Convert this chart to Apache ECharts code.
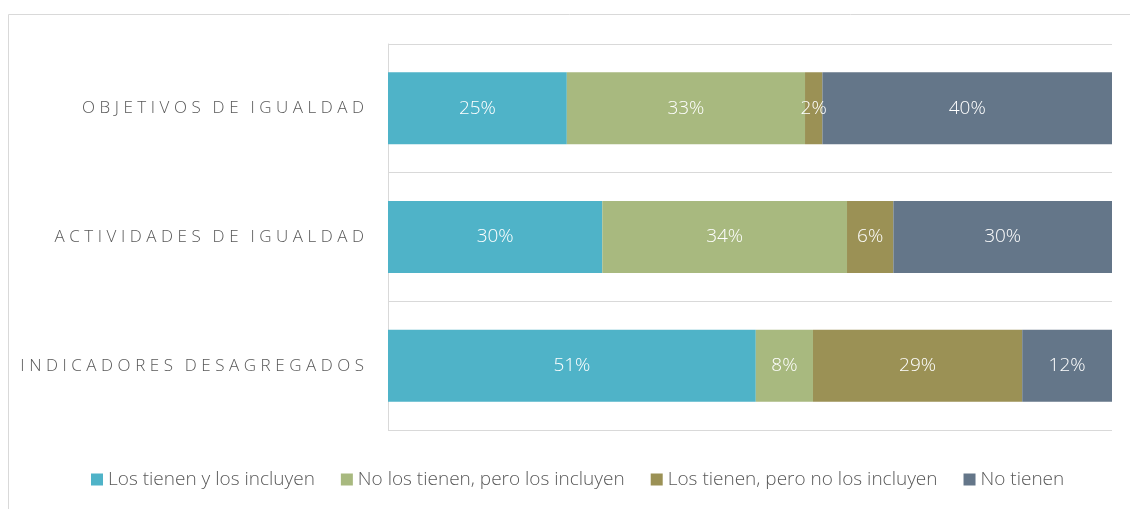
<!DOCTYPE html>
<html>
<head>
<meta charset="utf-8">
<script src="https://cdn.jsdelivr.net/npm/echarts@6/dist/echarts.min.js"></script>
<style>html,body{margin:0;padding:0;background:#fff}#c{width:1130px;height:509px}</style>
</head>
<body>
<div id="c"></div>
<script>
const categories = ['OBJETIVOS DE IGUALDAD', 'ACTIVIDADES DE IGUALDAD', 'INDICADORES DESAGREGADOS'];
const seriesNames = ['Los tienen y los incluyen', 'No los tienen, pero los incluyen', 'Los tienen, pero no los incluyen', 'No tienen'];
const tieneIncluye = [24.7, 29.6, 50.8];
const noTieneIncluye = [32.9, 33.8, 7.9];
const tieneNoIncluye = [2.4, 6.4, 28.9];
const noTienen = [40.0, 30.2, 12.4];
const colors = ['#4FB3C8', '#A8B97F', '#9B9155', '#647689'];

const values = [tieneIncluye, noTieneIncluye, tieneNoIncluye, noTienen];
const spaced = s => s.replace(/ /g, '\u2009').split('').join('\u2009\u200A');

const chart = echarts.init(document.getElementById('c'));
chart.setOption({
  animation: false,
  textStyle: { fontFamily: 'Open Sans' },
  graphic: [{
    type: 'rect', silent: true,
    shape: { x: 8.5, y: 14.5, width: 1300, height: 700 },
    style: { fill: 'none', stroke: '#d9d9d9', lineWidth: 1 }
  }],
  grid: { left: 388, right: 18, top: 44, bottom: 79 },
  legend: {
    left: 91, top: 470, padding: 0, itemWidth: 12, itemHeight: 12, itemGap: 26,
    icon: 'rect',
    textStyle: { color: '#595959', fontSize: 19, fontWeight: 300, fontFamily: 'Open Sans', padding: [0, 0, 0, 0] },
    data: seriesNames
  },
  xAxis: {
    type: 'value', min: 0, max: 100, show: false
  },
  yAxis: {
    type: 'category', inverse: true, data: categories,
    axisLine: { show: true, lineStyle: { color: '#d9d9d9', width: 1 } },
    axisTick: { show: false },
    splitLine: { show: true, lineStyle: { color: '#d9d9d9', width: 1 } },
    axisLabel: {
      color: '#595959', fontSize: 17, fontWeight: 300, fontFamily: 'Open Sans', margin: 24,
      formatter: v => spaced(v)
    }
  },
  series: values.map((arr, i) => ({
    name: seriesNames[i], type: 'bar', stack: 'total', barWidth: 72,
    itemStyle: { color: colors[i] },
    label: {
      show: true, position: 'inside', color: '#ffffff', fontSize: 19, fontWeight: 300, fontFamily: 'Open Sans',
      formatter: p => Math.round(p.value) + '%'
    },
    data: arr
  }))
});
</script>
</body>
</html>
